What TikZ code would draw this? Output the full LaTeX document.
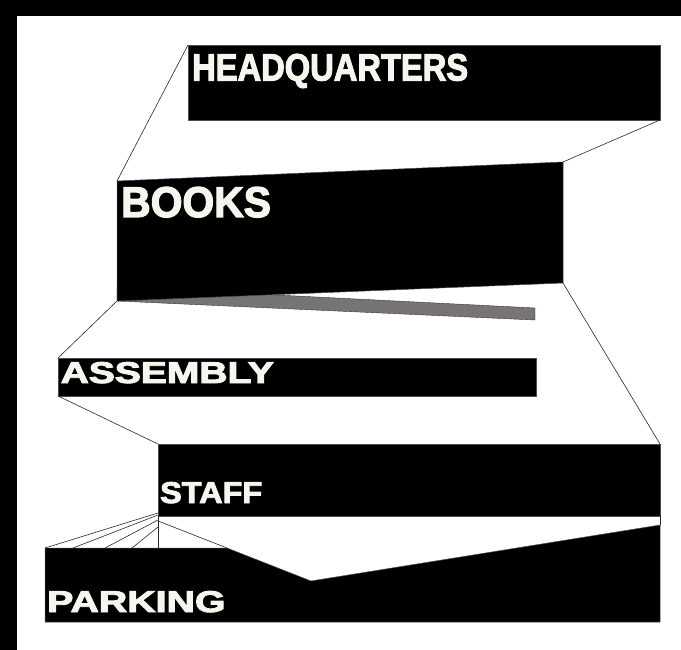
\documentclass[tikz,border=0pt]{standalone}
\usepackage{fontspec}
\setmainfont{Liberation Sans}
\newfontfamily\signfont{Liberation Sans Bold}[FakeBold=3]
\usepackage{graphicx}
\definecolor{signwhite}{RGB}{245,247,238}
\definecolor{wedgegray}{RGB}{120,116,115}

\begin{document}
\begin{tikzpicture}[x=1pt,y=-1pt,
    slab/.style={fill=black,draw=black!70,line width=0.5pt},
    link/.style={draw=black!85,line width=0.6pt},
    tag/.style={text=signwhite,inner sep=0pt,anchor=base west}]
  \useasboundingbox (0,0) rectangle (681,650);

  %% frame strips
  \fill[black] (0,0) rectangle (17,650);
  \fill[black] (0,0) rectangle (681,16);

  %% corners of the floors
  \coordinate (hqTL) at (188,45);   \coordinate (hqBR) at (660,120);
  \coordinate (bkTL) at (117,181);  \coordinate (bkTR) at (563,162);
  \coordinate (bkBR) at (563,283);  \coordinate (bkBL) at (117,301);
  \coordinate (asTL) at (58,358);   \coordinate (asBR) at (536,396);
  \coordinate (asBL) at (58,396);
  \coordinate (stTL) at (158,444);  \coordinate (stTR) at (660,444);
  \coordinate (stBR) at (660,516);  \coordinate (stBL) at (158,516);
  \coordinate (pkTL) at (45,548);   \coordinate (pkTM) at (227,548);
  \coordinate (pkDip) at (311,581); \coordinate (pkTR) at (660,525);
  \coordinate (pkBR) at (660,622);  \coordinate (pkBL) at (45,622);
  \coordinate (pkPost) at (158,548);

  %% headquarters
  \draw[slab] (hqTL) rectangle (hqBR);

  %% grey wedge under books
  \draw[fill=wedgegray,draw=black!80,line width=0.4pt]
    (bkBL) -- (535,320) -- (535,308) -- (117,287) -- cycle;

  %% books
  \draw[slab] (bkTL) -- (bkTR) -- (bkBR) -- (bkBL) -- cycle;

  %% assembly
  \draw[slab] (asTL) rectangle (asBR);

  %% staff
  \draw[slab] (stTL) rectangle (stBR);

  %% parking
  \draw[slab] (pkTL) -- (pkTM) -- (pkDip) -- (pkTR) -- (pkBR) -- (pkBL) -- cycle;

  %% links between floors
  \draw[link] (hqTL) -- (bkTL);
  \draw[link] (hqBR) -- (bkTR);
  \draw[link] (bkBL) -- (asTL);
  \draw[link] (bkBR) -- (stTR);
  \draw[link] (asBL) -- (stTL);
  \draw[link] (stBR) -- (pkTR);
  \draw[link] (stBL) -- (pkPost);

  %% fan lines to parking
  \draw[link] (158,513) -- (pkTL);
  \draw[link] (158,515) -- (73,548);
  \draw[link] (158,520) -- (105,548);
  \draw[link] (158,527) -- (132,548);
  \draw[link] (158,521) -- (pkTM);

  %% labels
  \node[tag,font=\signfont\fontsize{38}{40}\selectfont] (hq) at (192,80.5)
    {\scalebox{0.86}[1]{HEADQUARTERS}};
  \node[tag,font=\signfont\fontsize{43}{45}\selectfont] (books) at (121,217)
    {\scalebox{0.95}[1]{BOOKS}};
  \node[tag,font=\signfont\fontsize{30}{32}\selectfont] (assembly) at (60.5,383)
    {\scalebox{1.3}[1]{ASSEMBLY}};
  \node[tag,font=\signfont\fontsize{30}{32}\selectfont] (staff) at (160,503)
    {\scalebox{1.08}[1]{STAFF}};
  \node[tag,font=\signfont\fontsize{30}{32}\selectfont] (parking) at (47,612)
    {\scalebox{1.31}[1]{PARKING}};
\end{tikzpicture}
\end{document}
